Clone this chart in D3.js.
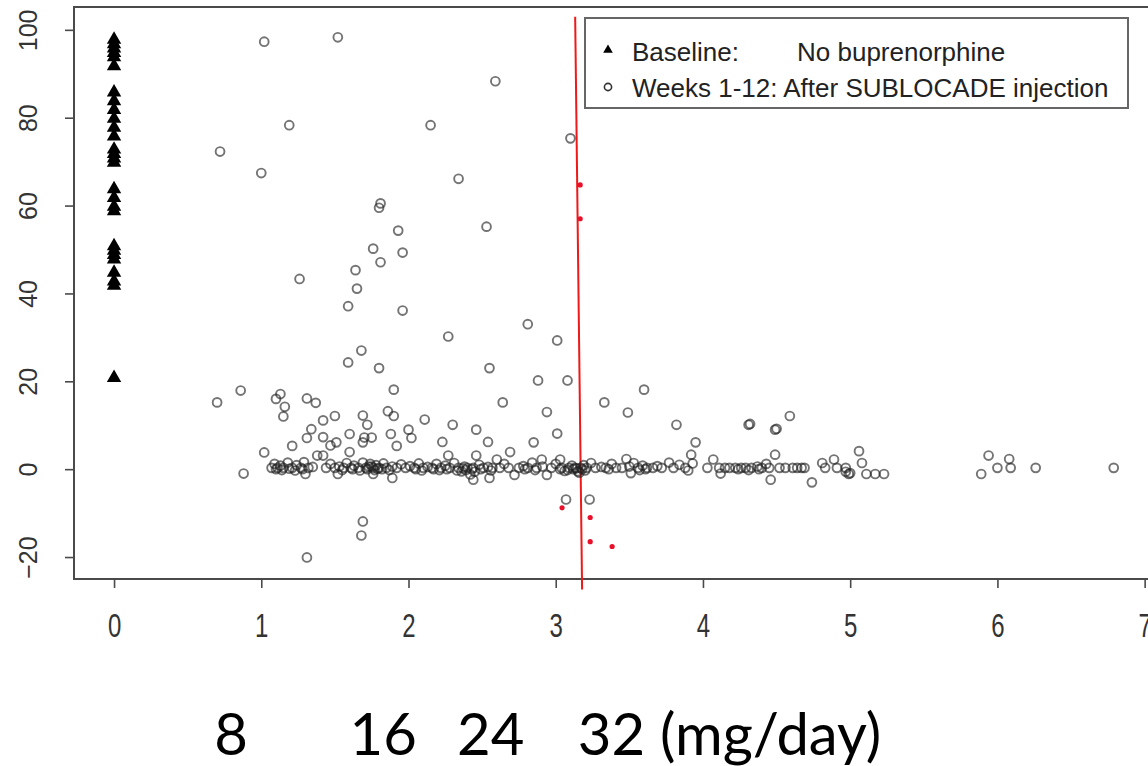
<!DOCTYPE html>
<html><head><meta charset="utf-8">
<script src="https://cdnjs.cloudflare.com/ajax/libs/d3/7.8.5/d3.min.js"></script>
<style>
html,body{margin:0;padding:0;background:#fff;}
svg{display:block;}
</style></head>
<body>
<svg id="chart" width="1148" height="766"></svg>
<script>
// ---------- DATA ----------
const xTicks = [0, 1, 2, 3, 4, 5, 6, 7];
const yTicks = [-20, 0, 20, 40, 60, 80, 100];
const legendLabels = ["Baseline:", "No buprenorphine", "Weeks 1-12: After SUBLOCADE injection"];
const doseLabels = ["8", "16", "24", "32 (mg/day)"];
const dosePositions = [0.68, 1.60, 2.33, 3.15]; // x-axis units where dose labels start

// Baseline (x = 0): percent values
const baselineValues = [98, 97, 96, 95, 94, 92, 86, 84, 82, 80, 78, 76, 73, 72, 71, 70,
  64, 62, 60, 59, 51, 50, 49, 48, 45, 43, 42, 21];

// Weeks 1-12: scattered points [x, y]
const weeksScatter = [
  [0.70,15.2],[0.72,72.3],[0.86,17.9],[0.88,-1.0],[1.00,67.4],[1.02,97.3],[1.02,3.8],
  [1.10,16.0],[1.13,17.1],[1.15,12.0],[1.16,14.2],[1.19,78.3],[1.21,5.3],[1.26,43.3],
  [1.31,16.1],[1.31,7.1],[1.31,-20.1],[1.30,-1.1],[1.34,9.1],[1.37,15.1],[1.38,3.1],[1.42,11.1],
  [1.42,7.3],[1.42,3.1],[1.47,5.4],[1.50,12.1],[1.51,6.1],[1.52,98.3],[1.52,-1.1],[1.59,37.1],
  [1.59,24.3],[1.60,8.0],[1.60,3.9],[1.64,45.3],[1.65,41.1],[1.68,27.0],[1.68,-15.1],
  [1.69,-11.9],[1.69,12.2],[1.69,6.1],[1.70,7.2],[1.72,10.1],[1.75,7.2],[1.76,50.2],[1.76,-1.1],
  [1.80,59.5],[1.81,60.5],[1.80,23.0],[1.81,47.1],[1.86,13.2],[1.88,8.0],[1.89,-2.0],
  [1.90,18.1],[1.90,12.1],[1.92,5.3],[1.93,54.3],[1.96,49.3],[1.96,36.1],[2.00,9.0],
  [2.02,7.1],[2.11,11.3],[2.15,78.3],[2.23,6.2],[2.27,30.2],[2.27,3.1],[2.30,10.1],
  [2.34,66.1],[2.44,-2.4],[2.46,9.0],[2.46,3.1],[2.53,55.2],[2.54,6.2],[2.55,23.0],[2.55,-2.0],
  [2.59,88.3],[2.60,2.2],[2.64,15.2],[2.69,3.9],[2.72,-1.3],[2.81,33.0],[2.85,6.1],[2.88,20.2],
  [2.905,2.2],[2.94,13.0],[2.94,-1.3],[3.01,29.3],[3.01,8.1],[3.03,2.2],[3.07,-6.9],[3.08,20.2],
  [3.10,75.3],[3.23,-6.9],[3.33,15.2],[3.48,2.3],[3.49,12.9],[3.51,-0.9],[3.60,18.1],
  [3.82,10.1],[3.92,3.3],[3.93,1.3],[3.95,6.1],[4.07,2.2],[4.12,-1.0],[4.31,10.1],
  [4.32,10.3],[4.46,-2.4],[4.49,9.0],[4.49,3.3],[4.50,9.2],[4.59,12.1],[4.74,-3.0],
  [4.81,1.4],[4.89,2.2],[4.99,-1.1],[5.00,-0.9],[5.06,4.1],[5.08,1.4],[5.11,-1.1],
  [5.17,-1.1],[5.23,-1.1],[5.89,-1.1],[5.94,3.1],[6.00,0.3],[6.08,2.3],[6.09,0.3],
  [6.26,0.3],[6.79,0.3]
];

// Weeks 1-12: dense band near zero [x, y]
const weeksBand = [
  [1.07,0.3],[1.09,1.2],[1.11,0.3],[1.13,0.8],[1.15,0.3],[1.18,1.5],[1.21,0.3],[1.24,0.9],
  [1.27,0.3],[1.29,1.6],[1.32,0.3],[1.35,0.5],[1.44,0.3],[1.47,1.2],[1.50,0.3],[1.53,0.6],
  [1.56,0.3],[1.58,1.4],[1.61,0.3],[1.63,0.8],[1.66,0.3],[1.69,1.5],[1.71,0.3],[1.73,0.6],
  [1.74,1.2],[1.76,0.3],[1.78,0.9],[1.80,0.3],[1.83,1.3],[1.85,0.3],[1.89,0.6],[1.92,0.3],
  [1.95,1.1],[1.98,0.3],[2.01,0.7],[2.04,0.3],[2.07,1.3],[2.10,0.3],[2.13,0.5],[2.16,0.3],
  [2.19,1.2],[2.22,0.3],[2.25,0.8],[2.28,0.3],[2.31,1.4],[2.34,0.3],[2.36,-0.5],[2.38,0.6],
  [2.40,0.3],[2.42,-1.2],[2.44,0.3],[2.48,1.0],[2.51,0.3],[2.54,0.5],[2.57,0.3],[2.62,0.3],
  [2.65,1.2],[2.68,0.3],[2.75,0.3],[2.78,0.7],[2.81,0.3],[2.84,1.5],[2.87,0.3],[2.91,0.6],
  [2.97,0.3],[3.00,1.2],[3.04,0.3],[3.06,-0.4],[3.09,0.3],[3.11,0.8],[3.13,0.3],[3.15,-0.5],
  [3.17,0.3],[3.19,0.9],[3.21,0.3],[3.24,1.4],[3.27,0.3],[3.31,0.5],[3.34,0.3],[3.38,1.2],
  [3.41,0.3],[3.45,0.3],[3.50,0.6],[3.53,1.4],[3.56,0.3],[3.59,0.8],[3.62,0.3],[3.66,0.3],
  [3.69,0.7],[3.72,0.3],[3.77,1.5],[3.80,0.3],[3.84,1.0],[3.88,0.3],[3.90,-0.3],[4.03,0.3],
  [4.11,0.3],[4.15,0.3],[4.18,0.3],[4.22,0.3],[4.26,0.3],[4.29,0.3],[4.33,0.3],[4.37,0.6],
  [4.40,0.3],[4.43,1.2],[4.45,0.3],[4.52,0.3],[4.56,0.3],[4.61,0.3],[4.64,0.3],[4.67,0.3],
  [4.69,0.3],[4.83,0.3],[4.91,0.3],[4.97,0.3],
  [1.10,0.0],[1.14,-0.2],[1.19,0.1],[1.23,-0.3],[1.28,0.0],[1.55,-0.2],[1.62,0.0],
  [1.67,-0.3],[1.72,0.0],[1.75,0.6],[1.77,-0.2],[1.79,0.1],[1.82,0.0],[1.87,-0.2],
  [2.05,0.0],[2.09,-0.3],[2.17,0.0],[2.21,-0.2],[2.26,0.0],[2.33,-0.3],[2.37,0.2],
  [2.39,-0.2],[2.43,0.0],[2.45,-0.6],[2.49,0.0],[2.56,-0.3],[2.79,0.0],[2.86,-0.2],
  [3.03,0.0],[3.08,-0.2],[3.12,0.0],[3.14,0.2],[3.16,-0.8],[3.18,0.0],[3.20,-0.3],
  [3.36,0.0],[3.57,-0.2],[3.61,0.0],[4.24,0.0],[4.31,-0.2],[4.38,0.0],[4.97,-0.6]
];

// Red annotations
const redLine = [[3.132, 103.0], [3.179, -27.4]];
const redDots = [[3.166,64.7],[3.166,57.0],[3.043,-8.8],[3.234,-11.0],[3.234,-16.5],[3.383,-17.6]];

// ---------- CHART ----------
const svg = d3.select("#chart");
const L = 74, R = 1152, T = 7, B = 579;
const x = d3.scaleLinear().domain([-0.272, 7.05]).range([L, R]);
const y = d3.scaleLinear().domain([-25, 105.2]).range([B, T]);
const axisColor = "#4a4a4a";
const font = "'Liberation Sans', Arial, sans-serif";

// plot box
svg.append("rect").attr("x", L).attr("y", T).attr("width", R - L).attr("height", B - T)
  .attr("fill", "none").attr("stroke", axisColor).attr("stroke-width", 2);

// x axis
const xAxis = svg.append("g").attr("transform", `translate(0,${B})`)
  .call(d3.axisBottom(x).tickValues(xTicks).tickSize(9).tickPadding(0).tickFormat(d3.format("d")));
xAxis.select(".domain").remove();
xAxis.selectAll("line").attr("stroke", axisColor).attr("stroke-width", 1.6);
xAxis.selectAll("text").attr("y", 0).attr("dy", null)
  .attr("transform", "translate(0,58) scale(1,1.35)")
  .attr("font-family", font).attr("font-size", 24).attr("fill", "#333");

// y axis
const yAxis = svg.append("g").attr("transform", `translate(${L},0)`)
  .call(d3.axisLeft(y).tickValues(yTicks).tickSize(9).tickFormat(d3.format("d")));
yAxis.select(".domain").remove();
yAxis.selectAll("line").attr("stroke", axisColor).attr("stroke-width", 1.6);
yAxis.selectAll("text").attr("x", 0).attr("dy", null)
  .attr("text-anchor", "middle").attr("dominant-baseline", "central")
  .attr("transform", "translate(-46,0) rotate(-90)")
  .attr("font-family", font).attr("font-size", 25).attr("fill", "#333");

// red vertical line
svg.append("line")
  .attr("x1", x(redLine[0][0])).attr("y1", y(redLine[0][1]))
  .attr("x2", x(redLine[1][0])).attr("y2", y(redLine[1][1]))
  .attr("stroke", "#f01818").attr("stroke-width", 2);

// weeks circles
const weeks = weeksScatter.concat(weeksBand);
svg.append("g").selectAll("circle").data(weeks).join("circle")
  .attr("cx", d => x(d[0])).attr("cy", d => y(d[1])).attr("r", 4.4)
  .attr("fill", "none").attr("stroke", "rgba(30,30,30,0.62)").attr("stroke-width", 1.9);

// baseline triangles
const tri = d3.symbol().type(d3.symbolTriangle).size(90);
svg.append("g").selectAll("path").data(baselineValues).join("path")
  .attr("d", tri).attr("transform", d => `translate(${x(0)},${y(d) + 1})`)
  .attr("fill", "#000");

// red dots
svg.append("g").selectAll("circle").data(redDots).join("circle")
  .attr("cx", d => x(d[0])).attr("cy", d => y(d[1])).attr("r", 2.6).attr("fill", "#e8102a");

// legend
const lg = svg.append("g");
lg.append("rect").attr("x", 585).attr("y", 18).attr("width", 543).attr("height", 90)
  .attr("fill", "#fff").attr("stroke", "#666").attr("stroke-width", 2);
lg.append("path").attr("d", d3.symbol().type(d3.symbolTriangle).size(40))
  .attr("transform", "translate(608,50)").attr("fill", "#000");
lg.append("circle").attr("cx", 608).attr("cy", 87).attr("r", 3.6)
  .attr("fill", "none").attr("stroke", "#333").attr("stroke-width", 1.6);
const lgText = (t, xx, yy) => lg.append("text").attr("x", xx).attr("y", yy).text(t)
  .attr("font-family", font).attr("font-size", 26).attr("fill", "#222");
lgText(legendLabels[0], 632, 61);
lgText(legendLabels[1], 797, 61);
lgText(legendLabels[2], 632, 97);

// dose labels under the axis
svg.append("g").selectAll("text").data(doseLabels).join("text")
  .attr("x", (d, i) => x(dosePositions[i]))
  .attr("y", 755)
  .attr("font-family", "Lato, 'Open Sans', sans-serif")
  .attr("font-size", 58).attr("fill", "#000")
  .text(d => d);
</script>
</body></html>
